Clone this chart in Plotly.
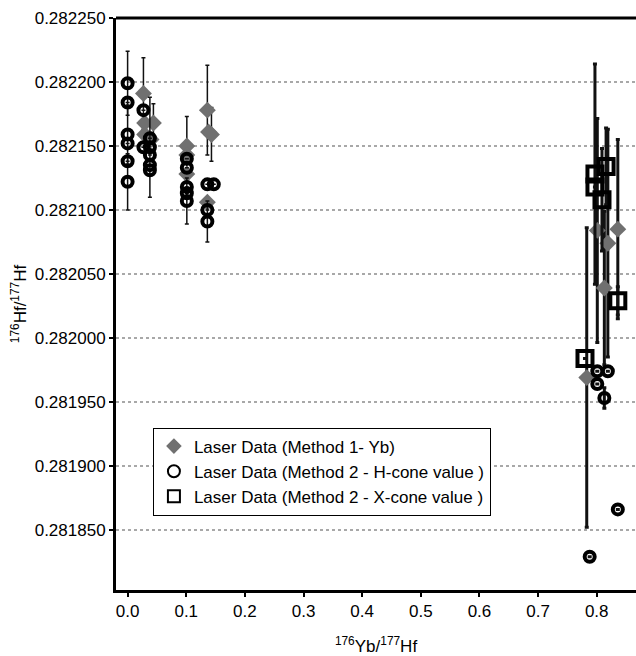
import plotly.graph_objects as go

# Method 1 - Yb (diamonds)
m1_x = [0.027, 0.029, 0.044, 0.029, 0.040, 0.101, 0.101, 0.101, 0.136, 0.138, 0.143, 0.136,
        0.801, 0.836, 0.819, 0.813, 0.783]
m1_y = [0.282191, 0.282168, 0.282168, 0.282159, 0.282155, 0.282150, 0.282143, 0.282128,
        0.282178, 0.282161, 0.282159, 0.282106,
        0.282084, 0.282085, 0.282074, 0.282039, 0.281969]
m1_err = [0.000028, None, 0.000015, None, None, 0.000023, None, None,
          0.000035, None, 0.000021, None,
          0.0000875, 0.00007, 0.000089, 0.00006, 0.000117]

# Method 2 - H-cone (open circles)
m2h_x = [0.0, 0.0, 0.0, 0.0, 0.0, 0.0,
         0.027, 0.027, 0.038, 0.038, 0.038, 0.038, 0.038,
         0.101, 0.101, 0.101, 0.101, 0.101,
         0.136, 0.147, 0.136, 0.136,
         0.801, 0.819, 0.801, 0.813, 0.788, 0.836]
m2h_y = [0.282199, 0.282184, 0.282159, 0.282152, 0.282138, 0.282122,
         0.282178, 0.282149, 0.282156, 0.282149, 0.282143, 0.282135, 0.282131,
         0.282140, 0.282133, 0.282118, 0.282113, 0.282107,
         0.282120, 0.282120, 0.282100, 0.282091,
         0.281974, 0.281974, 0.281964, 0.281953, 0.281829, 0.281866]
m2h_err = [0.000025, None, 0.000023, None, None, 0.000022,
           None, None, None, 0.000039, None, None, None,
           None, None, None, None, 0.000018,
           None, None, None, 0.000016,
           None, None, None, 0.000008, None, None]

# Method 2 - X-cone (open squares)
m2x_x = [0.797, 0.816, 0.797, 0.809, 0.836, 0.780]
m2x_y = [0.282128, 0.282134, 0.282118, 0.282108, 0.282029, 0.281984]
m2x_err = [0.000086, 0.00003, None, 0.00004, 0.000011, None]

x_ticks = [0.0, 0.1, 0.2, 0.3, 0.4, 0.5, 0.6, 0.7, 0.8]
y_ticks = [0.28185, 0.2819, 0.28195, 0.282, 0.28205, 0.2821, 0.28215, 0.2822, 0.28225]
y_labels = ["0.281850", "0.281900", "0.281950", "0.282000", "0.282050",
            "0.282100", "0.282150", "0.282200", "0.282250"]

series = [
    ("Laser Data (Method 1- Yb)", m1_x, m1_y, m1_err,
     dict(symbol="diamond", size=13, color="#707070", line=dict(width=0))),
    ("Laser Data (Method 2 - H-cone value )", m2h_x, m2h_y, m2h_err,
     dict(symbol="circle-open", size=10, color="black", line=dict(width=4, color="black"))),
    ("Laser Data (Method 2 - X-cone value )", m2x_x, m2x_y, m2x_err,
     dict(symbol="square-open", size=15, color="black", line=dict(width=4, color="black"))),
]

fig = go.Figure()
for i, (name, xs, ys, es, mk) in enumerate(series):
    shown = False
    # two clusters: low-Yb (thin error bars) and high-Yb (thick error bars)
    for part, thick in (("lo", 1.5), ("hi", 3)):
        idx = [k for k in range(len(xs)) if (xs[k] < 0.5) == (part == "lo")]
        if not idx:
            continue
        fig.add_trace(go.Scatter(
            x=[xs[k] for k in idx], y=[ys[k] for k in idx], mode="markers",
            name=name, legendgroup=name, showlegend=not shown,
            marker=mk,
            error_y=dict(type="data", array=[es[k] for k in idx], visible=True,
                         color="#111111", thickness=thick, width=2)))
        shown = True

fig.update_layout(
    width=636, height=656,
    margin=dict(l=116, r=0, t=18, b=66),
    paper_bgcolor="white", plot_bgcolor="white",
    font=dict(family="Liberation Sans, Arial, sans-serif", size=17, color="black"),
    showlegend=True,
    legend=dict(x=0.071, y=0.284, xanchor="left", yanchor="top",
                bgcolor="white", bordercolor="black", borderwidth=1,
                font=dict(size=17), tracegroupgap=0, itemsizing="constant"),
    shapes=[dict(type="line", xref="paper", yref="paper", x0=0, x1=1, y0=1, y1=1,
                 line=dict(color="black", width=3))],
)
fig.update_xaxes(
    range=[-0.0198, 0.867], tickvals=x_ticks, ticktext=[f"{v:.1f}" for v in x_ticks],
    showgrid=False, zeroline=False, showline=True, linecolor="black", linewidth=3,
    ticks="outside", ticklen=4, tickwidth=2, tickcolor="black",
    tickfont=dict(size=17), automargin=False,
    title=dict(text="<sup>176</sup>Yb/<sup>177</sup>Hf", font=dict(size=17), standoff=20))
fig.update_yaxes(
    range=[0.281803, 0.28225], tickvals=y_ticks, ticktext=y_labels,
    showgrid=True, gridcolor="#a8a8a8", gridwidth=2, griddash="dot",
    zeroline=False, showline=True, linecolor="black", linewidth=3,
    ticks="outside", ticklen=4, tickwidth=2, tickcolor="black",
    tickfont=dict(size=17), automargin=False,
    title=dict(text="<sup>176</sup>Hf/<sup>177</sup>Hf", font=dict(size=17), standoff=4))

fig.write_html("out.html", config={"displayModeBar": False},
               post_script="document.body.style.margin='0';document.body.style.overflow='hidden';")
